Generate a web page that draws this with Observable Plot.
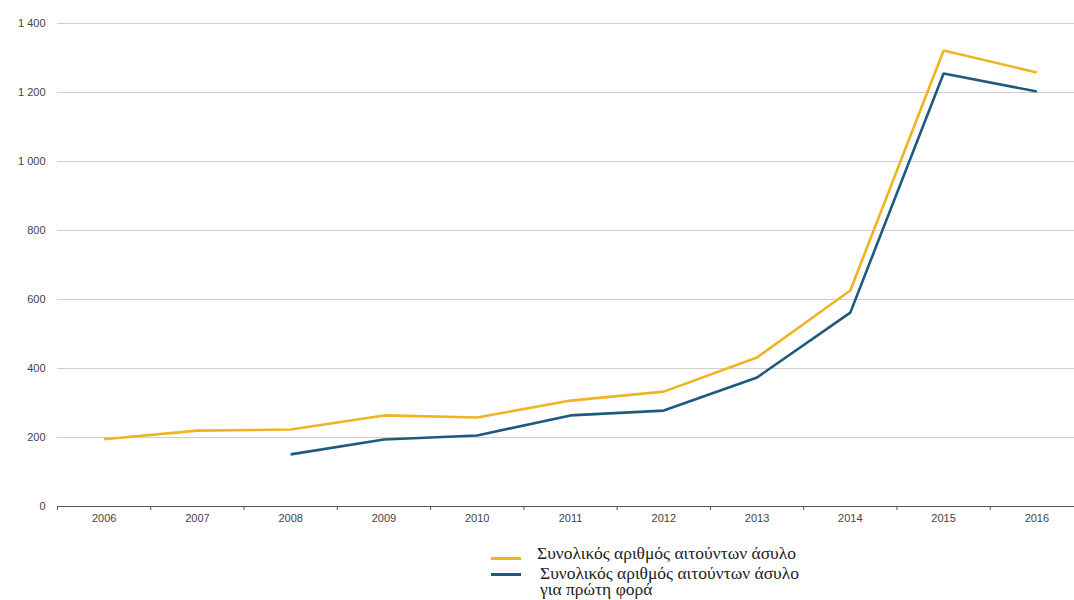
<!DOCTYPE html>
<html>
<head>
<meta charset="utf-8">
<script src="https://cdn.jsdelivr.net/npm/d3@7"></script>
<script src="https://cdn.jsdelivr.net/npm/@observablehq/plot@0.6"></script>
<style>
  html, body { margin: 0; padding: 0; background: #fff; }
  #chart { width: 1074px; height: 600px; position: relative; overflow: hidden; }
  .legend { position: absolute; left: 491px; top: 545px; font-family: "Liberation Serif", "DejaVu Serif", serif; font-size: 17.5px; color: #222; line-height: 16px; }
  .item { display: flex; align-items: flex-start; }
  .sw { width: 30px; height: 3px; margin-right: 16px; flex: none; }
</style>
</head>
<body>
<div id="chart"></div>
<script>
const years = [2006, 2007, 2008, 2009, 2010, 2011, 2012, 2013, 2014, 2015, 2016];
const totalApplicants = [195, 220, 223, 264, 258, 307, 333, 432, 626, 1322, 1258];
const firstTimeApplicants = [null, null, 151, 194, 206, 264, 278, 374, 562, 1255, 1203];
const yTicks = [0, 200, 400, 600, 800, 1000, 1200, 1400];
const seriesNames = ["Συνολικός αριθμός αιτούντων άσυλο", "Συνολικός αριθμός αιτούντων άσυλο\nγια πρώτη φορά"];
const seriesColors = ["#f0b323", "#1d5a7e"];

const rows = [];
years.forEach((y, i) => {
  rows.push({year: y, value: totalApplicants[i], series: seriesNames[0]});
  if (firstTimeApplicants[i] != null) rows.push({year: y, value: firstTimeApplicants[i], series: seriesNames[1]});
});
const boundaries = years.map(y => y - 0.5).concat([years[years.length - 1] + 0.5]);
const fmt = d3.formatLocale({thousands: "\u00a0", grouping: [3], decimal: ","}).format(",");

const plot = Plot.plot({
  width: 1074,
  height: 530,
  marginTop: 23,
  marginBottom: 24,
  marginLeft: 57,
  marginRight: 0,
  style: {fontFamily: "'Liberation Sans', Arial, sans-serif", fontSize: "11px", color: "#444", background: "#fff"},
  x: {domain: [2005.5, 2016.5], range: [57, 1083], axis: null},
  y: {domain: [0, 1400], axis: null},
  color: {domain: seriesNames, range: seriesColors},
  marks: [
    Plot.ruleY(yTicks.filter(d => d > 0), {stroke: "#cfcfcf", strokeWidth: 1}),
    Plot.axisY(yTicks, {tickSize: 0, tickPadding: 12, tickFormat: fmt, fill: "#444", fontSize: 11, label: null}),
    Plot.lineY(rows, {x: "year", y: "value", stroke: "series", z: "series", strokeWidth: 2.6, strokeLinejoin: "miter", strokeLinecap: "butt"}),
    Plot.ruleY([0], {stroke: "#555", strokeWidth: 1}),
    Plot.axisX(boundaries, {tickSize: 4, tickFormat: () => "", stroke: "#555", label: null}),
    Plot.axisX(years, {tickSize: 0, tickPadding: 8, tickFormat: d => String(d), fill: "#444", fontSize: 11, label: null})
  ]
});
document.getElementById("chart").appendChild(plot);

const legend = document.createElement("div");
legend.className = "legend";
const swTop = [12, 8];
const itemTop = [0, 4];
const labelShift = [0, 3];
seriesNames.forEach((name, i) => {
  const item = document.createElement("div");
  item.className = "item";
  item.style.marginTop = itemTop[i] + "px";
  const sw = document.createElement("div");
  sw.className = "sw";
  sw.style.marginTop = swTop[i] + "px";
  sw.style.background = seriesColors[i];
  const label = document.createElement("div");
  label.style.whiteSpace = "pre";
  label.style.marginLeft = labelShift[i] + "px";
  label.textContent = name;
  item.appendChild(sw);
  item.appendChild(label);
  legend.appendChild(item);
});
document.getElementById("chart").appendChild(legend);
</script>
</body>
</html>
